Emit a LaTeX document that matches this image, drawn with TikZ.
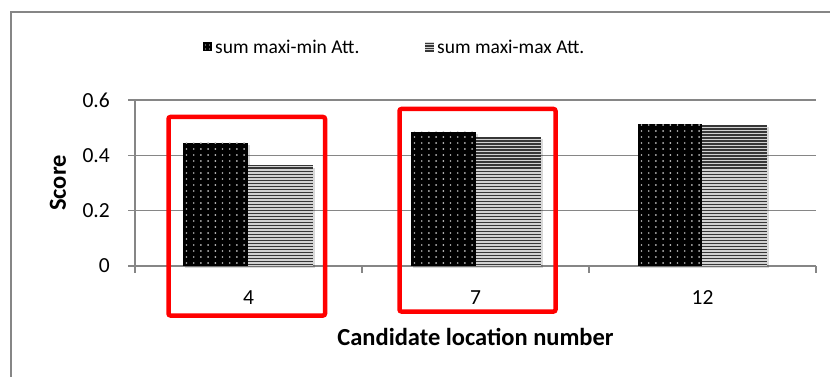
\documentclass[tikz,border=0pt]{standalone}
\usepackage{fontspec}
\setmainfont{Carlito}
\definecolor{axgray}{RGB}{134,134,134}
\definecolor{boxred}{RGB}{255,0,0}
\definecolor{dotgray}{RGB}{190,190,190}
\definecolor{stdark}{RGB}{55,55,55}
\definecolor{stlight}{RGB}{210,210,210}
\tikzset{
  frameline/.style={draw=axgray, line width=2pt},
  gridline/.style={draw=axgray, line width=1.5pt},
  redbox/.style={draw=boxred, line width=4.5pt, rounded corners=2pt},
  ticklbl/.style={inner sep=0pt, font=\fontsize{21.5}{25}\selectfont},
  legendlbl/.style={inner sep=0pt, anchor=west, font=\fontsize{19.5}{23}\selectfont},
  axtitle/.style={inner sep=0pt, font=\fontsize{24.5}{28}\selectfont\bfseries},
  barshadow/.style={fill=black, opacity=0.15}
}
\newcommand\dotbar[3]{%
  \fill[barshadow] (#1+2,#3+2) rectangle (#2+2,268);
  \fill[black] (#1,#3) rectangle (#2,266);
  \begin{scope}
    \clip (#1,#3) rectangle (#2,266);
    \foreach \i in {0,...,9}{\foreach \j in {0,...,25}{%
      \fill[dotgray] (#1+3.5+\i*7.2, 263-\j*6) circle[radius=0.95pt];}}
  \end{scope}}
\newcommand\stripebar[3]{%
  \fill[barshadow] (#1+2,#3+2) rectangle (#2+2,268);
  \fill[stlight] (#1,#3) rectangle (#2,266);
  \begin{scope}
    \clip (#1,#3) rectangle (#2,266);
    \foreach \k in {0,...,50}{%
      \fill[stdark] (#1,265-\k*3) rectangle (#2,263.5-\k*3);}
  \end{scope}}
\begin{document}
\begin{tikzpicture}[x=1pt,y=-1pt]
\useasboundingbox (0,0) rectangle (830,377);
\fill[white] (0,0) rectangle (830,377);
% chart frame
\draw[frameline] (11,400) -- (11,12.5) -- (850,12.5);
% gridlines
\foreach \yy in {100,155.33,210.67}{\draw[gridline] (128,\yy) -- (816,\yy);}
% axes
\draw[gridline] (135,100) -- (135,273);
\draw[gridline] (128,266) -- (816,266);
\foreach \xx in {362,589,816}{\draw[gridline] (\xx,266) -- (\xx,273);}
% bars
\dotbar{183}{248}{143}
\stripebar{248}{313}{166}
\dotbar{411}{476}{132}
\stripebar{476}{541}{137}
\dotbar{638}{702}{124}
\stripebar{702}{767}{125}
% tick labels
\node[ticklbl, anchor=east] (y06) at (110,100) {0.6};
\node[ticklbl, anchor=east] (y04) at (110,155.33) {0.4};
\node[ticklbl, anchor=east] (y02) at (110,210.67) {0.2};
\node[ticklbl, anchor=east] (y00) at (110,266) {0};
\node[ticklbl] (c4) at (248.5,297.5) {4};
\node[ticklbl] (c7) at (475.5,297.5) {7};
\node[ticklbl] (c12) at (702.5,297.5) {12};
% axis titles
\node[axtitle] (xt) at (475.5,337) {Candidate location number};
\node[axtitle, rotate=90] (yt) at (58,183) {Score};
% legend
\fill[black] (203,42.5) rectangle (212,51.5);
\foreach \px/\py in {205.5/45, 209.5/45, 205.5/49, 209.5/49}{\fill[dotgray] (\px,\py) circle[radius=0.7pt];}
\node[legendlbl] (l1) at (215,47) {sum maxi-min Att.};
\fill[stlight] (425,42.5) rectangle (434,51.5);
\foreach \sy in {43.5,46,48.5,51}{\draw[stdark, line width=1.2pt] (425,\sy) -- (434,\sy);}
\node[legendlbl] (l2) at (437,47) {sum maxi-max Att.};
% highlight boxes
\draw[redbox] (168.5,117) rectangle (325,315.5);
\draw[redbox] (399.5,109) rectangle (555.5,311.5);
\end{tikzpicture}
\end{document}
